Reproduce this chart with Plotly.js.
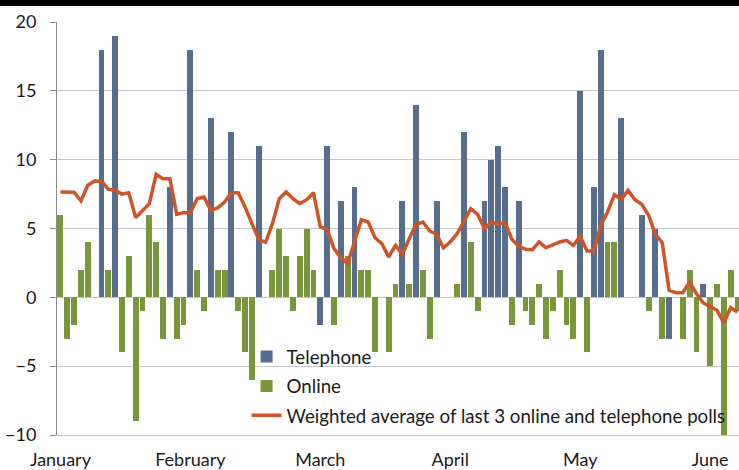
<!DOCTYPE html>
<html>
<head>
<meta charset="utf-8">
<script src="https://cdn.plot.ly/plotly-3.0.1.min.js"></script>
<style>html,body{margin:0;padding:0;background:#fff;}#chart{width:739px;height:470px;}</style>
</head>
<body>
<div id="chart"></div>
<script>
// One slot per poll, in date order (100 polls). null = poll of the other mode.
const telephone = [
  null,null,null,null,null,null,18,null,19,null,
  null,null,null,null,null,null,8,null,null,18,
  null,null,13,null,null,12,null,null,null,11,
  null,null,null,null,null,null,null,null,-2,11,
  null,7,null,8,null,null,null,null,null,null,
  7,null,14,null,null,7,null,null,null,12,
  null,null,7,10,11,8,null,7,null,null,
  null,null,null,null,null,null,15,null,8,18,
  null,null,13,null,null,6,null,5,null,-3,
  null,null,null,null,1,null,null,null,null,null
];
const online = [
  6,-3,-2,2,4,null,null,2,null,-4,
  3,-9,-1,6,4,-3,null,-3,-2,null,
  2,-1,null,2,2,null,-1,-4,-6,null,
  null,2,5,3,-1,3,5,2,null,null,
  -2,null,3,null,2,2,-4,null,-4,1,
  null,1,null,2,-3,null,null,null,1,null,
  4,-1,null,null,null,null,-2,null,-1,-2,
  1,-3,-1,2,-2,-3,null,-4,null,null,
  4,4,null,null,null,null,-1,null,-3,null,
  null,-3,2,-4,null,-5,1,-10,2,-1
];
const weightedAvg = [
  7.65,7.65,7.63,7.0,8.14,8.45,8.43,7.85,7.77,7.5,
  7.6,5.79,6.27,6.8,8.93,8.62,8.62,6.03,6.15,6.15,
  7.17,7.29,6.32,6.5,6.92,7.6,7.6,6.56,5.35,4.21,
  4.0,5.35,7.17,7.65,7.17,6.8,7.09,7.6,5.11,4.94,
  3.54,2.88,2.45,4.02,5.64,5.47,4.33,3.9,2.93,3.78,
  3.12,4.26,5.3,5.47,4.82,4.58,3.6,4.02,4.62,5.52,
  6.44,6.03,4.99,5.47,5.3,5.45,4.22,3.7,3.49,3.46,
  4.02,3.6,3.83,4.02,4.14,3.78,4.43,3.37,3.37,5.23,
  6.2,7.46,7.12,7.77,7.09,6.76,5.96,4.58,3.97,0.51,
  0.34,0.34,1.11,0.27,-0.41,-0.7,-0.94,-1.86,-0.75,-1.07
];
const monthTickSlots = [0,19,38,57,76,95];
const monthLabels = ['January','February','March','April','May','June'];
const yTicks = [-10,-5,0,5,10,15,20];

const slots = weightedAvg.map((_, i) => i);
const boundaryTicks = monthTickSlots.slice(1).map(v => v - 0.5);

const FONT = 'Lato, "Open Sans", sans-serif';
const xRange = [-0.5, 99.22];

const traces = [
  {type:'bar', name:'Telephone', x:slots, y:telephone, width:0.86,
   marker:{color:'#566d8c', line:{width:0}}, legendgroup:'a', hoverinfo:'y'},
  {type:'bar', name:'Online', x:slots, y:online, width:0.86,
   marker:{color:'#7a963c', line:{width:0}}, legendgroup:'b', hoverinfo:'y'},
  {type:'scatter', mode:'lines', name:'Weighted average of last 3 online and telephone polls',
   x:slots, y:weightedAvg, line:{color:'#cf5428', width:3.5}, legendgroup:'c', hoverinfo:'y'}
];

const layout = {
  width:739, height:470,
  margin:{l:57, r:0, t:22, b:35, pad:0},
  paper_bgcolor:'#ffffff', plot_bgcolor:'#ffffff',
  font:{family:FONT, size:18, color:'#1a1a1a'},
  barmode:'overlay', bargap:0,
  showlegend:true,
  legend:{x:0.278, xanchor:'left', y:0.235, yanchor:'top', bgcolor:'rgba(0,0,0,0)',
          font:{family:FONT, size:18.7, color:'#1a1a1a'}, tracegroupgap:2, traceorder:'grouped'},
  xaxis:{range:xRange, tickmode:'array', tickvals:monthTickSlots, ticktext:monthLabels,
         showgrid:false, zeroline:false, showline:true, linecolor:'#c6c6c6', linewidth:1,
         ticks:'', ticklabelstandoff:8, fixedrange:true,
         tickfont:{family:FONT, size:18, color:'#1a1a1a'}},
  xaxis2:{range:xRange, overlaying:'x', anchor:'free', position:1/3, side:'bottom',
          showline:true, linecolor:'#8c8c8c', linewidth:1, layer:'below traces',
          tickmode:'array', tickvals:boundaryTicks, ticks:'outside', ticklen:6,
          tickcolor:'#8c8c8c', showticklabels:false, showgrid:false, zeroline:false},
  yaxis:{range:[-10,20], tickmode:'array', tickvals:yTicks, showgrid:true,
         gridcolor:'#c6c6c6', gridwidth:1, zeroline:false, showline:true,
         linecolor:'#8c8c8c', linewidth:1, ticks:'outside', ticklen:6, tickcolor:'#8c8c8c',
         ticklabelstandoff:10, tickfont:{family:FONT, size:18, color:'#1a1a1a'}, fixedrange:true},
  shapes:[
    {type:'rect', xref:'paper', yref:'paper', x0:-57/682, x1:1, y0:1+16/413, y1:1+22/413,
     fillcolor:'#000000', line:{width:0}, layer:'above'}
  ]
};

Plotly.newPlot('chart', traces, layout, {displayModeBar:false, staticPlot:true});
</script>
</body>
</html>
